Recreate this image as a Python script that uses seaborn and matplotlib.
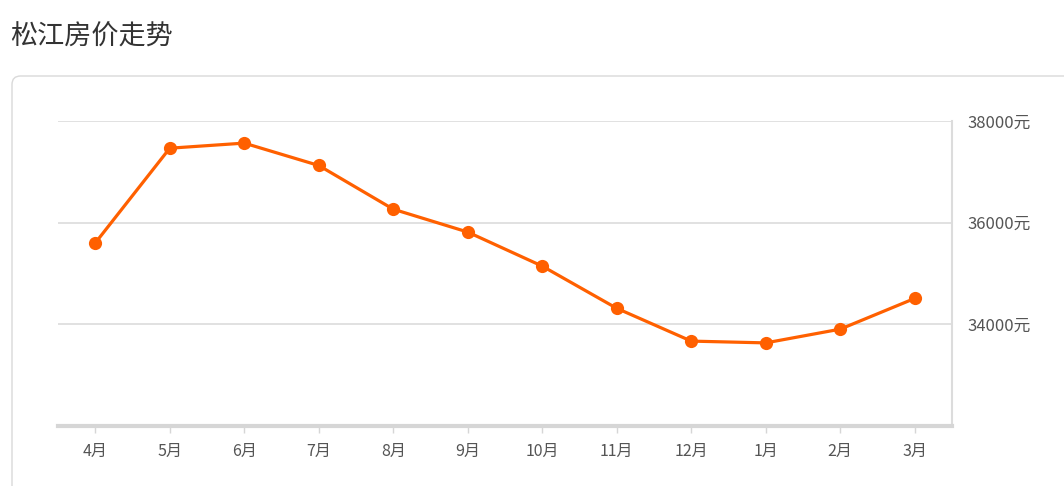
import pandas as pd
import matplotlib.pyplot as plt
import seaborn as sns
from matplotlib.patches import FancyBboxPatch

# Data
months = ['4月', '5月', '6月', '7月', '8月', '9月', '10月', '11月', '12月', '1月', '2月', '3月']
prices = [35600, 37465, 37565, 37125, 36265, 35815, 35145, 34315, 33670, 33635, 33905, 34510]
y_ticks = [34000, 36000, 38000]
y_labels = ['34000元', '36000元', '38000元']

df = pd.DataFrame({'month': months, 'price': prices})
df['pos'] = range(len(months))

sns.set_style('white')
plt.rcParams['font.family'] = ['Noto Sans CJK SC', 'DejaVu Sans']

W, H = 1064, 486
fig = plt.figure(figsize=(W / 100, H / 100), dpi=100)

# Card border (behind the axes)
card = FancyBboxPatch((12 / W, 1 - 560 / H), 1100 / W, (560 - 76) / H,
                      boxstyle='round,pad=0,rounding_size=0.008',
                      transform=fig.transFigure, facecolor='white',
                      edgecolor='#d9d9d9', linewidth=1.0, mutation_aspect=W / H,
                      zorder=-5)
fig.patches.append(card)

# Title
fig.text(10 / W, 1 - 37 / H, '松江房价走势', fontsize=19.5, color='#333333',
         ha='left', va='center')

ax = fig.add_axes([58 / W, 1 - 426 / H, (952 - 58) / W, (426 - 121) / H])
ax.set_facecolor('none')
ax.set_zorder(2)

sns.lineplot(data=df, x='pos', y='price', ax=ax, color='#ff6000',
             linewidth=2.3, marker='o', markersize=9.5,
             markeredgewidth=0, zorder=3)

ax.set_xlim(-0.5, len(months) - 0.5)
ax.set_ylim(32000, 38000)
ax.set_xticks(df['pos'])
ax.set_xticklabels(months)
ax.set_yticks(y_ticks)
ax.set_yticklabels(y_labels)
ax.yaxis.tick_right()
ax.set_xlabel('')
ax.set_ylabel('')

ax.grid(axis='y', color='#dcdcdc', linewidth=1.2)
ax.grid(axis='x', visible=False)

for side in ['top', 'left']:
    ax.spines[side].set_visible(False)
ax.spines['right'].set_color('#dcdcdc')
ax.spines['right'].set_linewidth(1.5)
ax.spines['bottom'].set_color('#d6d6d6')
ax.spines['bottom'].set_linewidth(3)

ax.tick_params(axis='x', length=5, width=1, color='#d6d6d6', pad=7,
               labelsize=11.5, labelcolor='#555555', bottom=True)
ax.tick_params(axis='y', length=0, pad=11, labelsize=12,
               labelcolor='#555555', right=True, left=False)

fig.savefig('out.png', dpi=100)
